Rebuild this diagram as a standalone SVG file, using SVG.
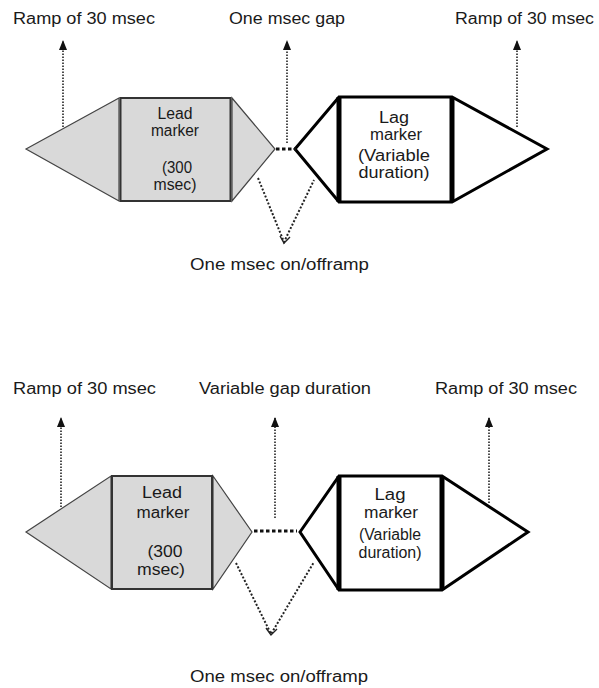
<svg xmlns="http://www.w3.org/2000/svg" width="599" height="688" viewBox="0 0 599 688">
  <style>
    .lbl { font-family: "Liberation Sans", Arial, sans-serif; font-size: 16px; fill: #1a1a1a; }
    .mid { text-anchor: middle; }
    .lead { fill: #d9d9d9; stroke: #444; stroke-width: 1.2; stroke-linejoin: miter; }
    .leadbox { fill: #d9d9d9; stroke: #333; stroke-width: 2; }
    .lag { fill: #fff; stroke: #000; stroke-width: 3; stroke-linejoin: miter; }
    .lagside { stroke: #000; stroke-width: 5; }
    .ptr { fill: none; stroke: #222; stroke-width: 1.6; stroke-dasharray: 1.6 1.4; }
    .conv { fill: none; stroke: #222; stroke-width: 2; stroke-dasharray: 2 1.8; }
    .gap { stroke: #111; stroke-width: 3; stroke-dasharray: 3.5 2.5; }
    .vhead { fill: none; stroke: #222; stroke-width: 1.4; }
  </style>
  <defs>
    <!-- solid triangular head, drawn along +x so orient="auto" turns it to the line -->
    <marker id="up" viewBox="0 0 10 8" refX="9" refY="4" markerWidth="10" markerHeight="8" markerUnits="userSpaceOnUse" orient="auto">
      <path d="M0,0 L10,4 L0,8 Z" fill="#111"/>
    </marker>
  </defs>

  <!-- upper: one msec gap between markers -->
  <g id="top-lead">
    <polygon class="lead" points="26,149 119,98 119,201"/>
    <polygon class="lead" points="232,98 275,149 232,201"/>
    <rect class="leadbox" x="120.5" y="98" width="110" height="103"/>
    <text class="lbl mid" x="175" y="119" font-size="14" textLength="35" lengthAdjust="spacingAndGlyphs">Lead</text>
    <text class="lbl mid" x="175" y="136" font-size="14" textLength="48" lengthAdjust="spacingAndGlyphs">marker</text>
    <text class="lbl mid" x="177" y="173" font-size="14" textLength="30" lengthAdjust="spacingAndGlyphs">(300</text>
    <text class="lbl mid" x="175" y="190" font-size="14" textLength="43" lengthAdjust="spacingAndGlyphs">msec)</text>
  </g>
  <g id="top-lag">
    <polygon class="lag" points="295,149 339,97 452,97 547,149 452,202 339,202"/>
    <line class="lagside" x1="339" y1="97" x2="339" y2="202"/>
    <line class="lagside" x1="452" y1="97" x2="452" y2="202"/>
    <text class="lbl mid" x="394" y="123" textLength="30" lengthAdjust="spacingAndGlyphs">Lag</text>
    <text class="lbl mid" x="396" y="140" textLength="52" lengthAdjust="spacingAndGlyphs">marker</text>
    <text class="lbl mid" x="394" y="161" textLength="72" lengthAdjust="spacingAndGlyphs">(Variable</text>
    <text class="lbl mid" x="394" y="178" textLength="71" lengthAdjust="spacingAndGlyphs">duration)</text>
  </g>
  <g id="top-labels">
    <text class="lbl" x="13" y="24" textLength="142" lengthAdjust="spacingAndGlyphs">Ramp of 30 msec</text>
    <text class="lbl" x="229" y="24" textLength="116" lengthAdjust="spacingAndGlyphs">One msec gap</text>
    <text class="lbl" x="455" y="24" textLength="139" lengthAdjust="spacingAndGlyphs">Ramp of 30 msec</text>
    <text class="lbl" x="190" y="270" textLength="179" lengthAdjust="spacingAndGlyphs">One msec on/offramp</text>
  </g>
  <g id="top-connectors">
    <line class="gap" x1="276" y1="149" x2="296" y2="149"/>
    <line class="ptr" x1="63" y1="127" x2="63" y2="41" marker-end="url(#up)"/>
    <line class="ptr" x1="287" y1="143" x2="287" y2="41" marker-end="url(#up)"/>
    <line class="ptr" x1="517" y1="127" x2="517" y2="41" marker-end="url(#up)"/>
    <polyline class="conv" points="258,178 284,242 314,180"/>
    <polyline class="vhead" points="280,236 284,243 290,237"/>
  </g>

  <!-- lower: variable gap between markers -->
  <g id="bottom-lead">
    <polygon class="lead" points="26,532 111,476 111,589"/>
    <polygon class="lead" points="213,476 252,532 213,589"/>
    <rect class="leadbox" x="112" y="476" width="100" height="113"/>
    <text class="lbl mid" x="162" y="498" textLength="40" lengthAdjust="spacingAndGlyphs">Lead</text>
    <text class="lbl mid" x="163" y="518" textLength="53" lengthAdjust="spacingAndGlyphs">marker</text>
    <text class="lbl mid" x="165" y="557" textLength="35" lengthAdjust="spacingAndGlyphs">(300</text>
    <text class="lbl mid" x="161" y="575" textLength="48" lengthAdjust="spacingAndGlyphs">msec)</text>
  </g>
  <g id="bottom-lag">
    <polygon class="lag" points="300,532 339,476 442,476 528,532 442,590 339,590"/>
    <line class="lagside" x1="339" y1="476" x2="339" y2="590"/>
    <line class="lagside" x1="442" y1="476" x2="442" y2="590"/>
    <text class="lbl mid" x="390" y="500" textLength="31" lengthAdjust="spacingAndGlyphs">Lag</text>
    <text class="lbl mid" x="391" y="518" textLength="54" lengthAdjust="spacingAndGlyphs">marker</text>
    <text class="lbl mid" x="390" y="540" font-size="13" textLength="62" lengthAdjust="spacingAndGlyphs">(Variable</text>
    <text class="lbl mid" x="390" y="558" font-size="13" textLength="63" lengthAdjust="spacingAndGlyphs">duration)</text>
  </g>
  <g id="bottom-labels">
    <text class="lbl" x="13" y="394" textLength="143" lengthAdjust="spacingAndGlyphs">Ramp of 30 msec</text>
    <text class="lbl" x="199" y="394" textLength="172" lengthAdjust="spacingAndGlyphs">Variable gap duration</text>
    <text class="lbl" x="435" y="394" textLength="142" lengthAdjust="spacingAndGlyphs">Ramp of 30 msec</text>
    <text class="lbl" x="190" y="682" textLength="178" lengthAdjust="spacingAndGlyphs">One msec on/offramp</text>
  </g>
  <g id="bottom-connectors">
    <line class="gap" x1="254" y1="531" x2="297" y2="531"/>
    <line class="ptr" x1="61" y1="507" x2="61" y2="418" marker-end="url(#up)"/>
    <line class="ptr" x1="275" y1="518" x2="275" y2="418" marker-end="url(#up)"/>
    <line class="ptr" x1="489" y1="503" x2="489" y2="418" marker-end="url(#up)"/>
    <polyline class="conv" points="236,563 271,634 314,562"/>
    <polyline class="vhead" points="266,628 271,635 277,629"/>
  </g>
</svg>
